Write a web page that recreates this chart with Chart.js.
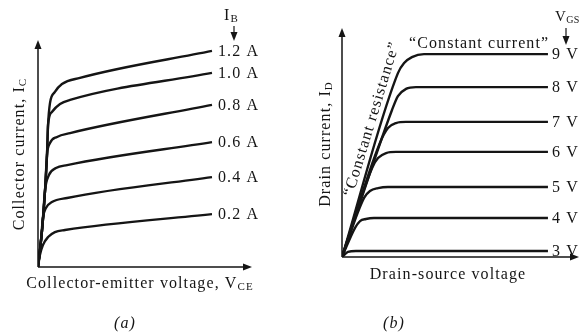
<!DOCTYPE html>
<html>
<head>
<meta charset="utf-8">
<script src="https://cdn.jsdelivr.net/npm/chart.js@4.4.0/dist/chart.umd.min.js"></script>
<style>
  html, body { margin: 0; padding: 0; background: #fff; }
  #wrap { position: relative; width: 582px; height: 335px; }
  canvas { position: absolute; top: 0; }
  #bjt { left: 0; }
  #fet { left: 291px; }
</style>
</head>
<body>
<div id="wrap">
  <canvas id="bjt" width="291" height="335"></canvas>
  <canvas id="fet" width="291" height="335"></canvas>
</div>
<script>
// (a) bipolar transistor: collector current vs collector-emitter voltage
const ibLabels = ['1.2 A', '1.0 A', '0.8 A', '0.6 A', '0.4 A', '0.2 A'];
const vce12 = [0, 0.19, 0.33, 0.42, 0.47, 0.56, 0.79, 1.12, 1.96, 8.13];
const ic12  = [0, 1.63, 3.39, 4.93, 6.26, 7.22, 7.71, 8.06, 8.33, 9.52];
const vce10 = [0, 0.19, 0.33, 0.42, 0.47, 0.65, 1.03, 1.50, 8.13];
const ic10  = [0, 1.63, 3.39, 4.93, 6.26, 6.83, 7.18, 7.36, 8.55];
const vce08 = [0, 0.19, 0.33, 0.42, 0.56, 0.89, 1.50, 8.13];
const ic08  = [0, 1.63, 3.39, 4.93, 5.46, 5.73, 5.90, 7.14];
const vce06 = [0, 0.19, 0.33, 0.51, 0.84, 1.36, 8.13];
const ic06  = [0, 1.63, 3.39, 4.05, 4.36, 4.49, 5.50];
const vce04 = [0, 0.14, 0.23, 0.37, 0.65, 1.36, 8.13];
const ic04  = [0, 1.19, 2.16, 2.60, 2.86, 3.04, 3.96];
const vce02 = [0, 0.09, 0.23, 0.47, 0.79, 1.26, 8.13];
const ic02  = [0, 0.53, 0.97, 1.32, 1.54, 1.63, 2.33];

// (b) field-effect transistor: drain current vs drain-source voltage
const vgsLabels = ['9 V', '8 V', '7 V', '6 V', '5 V', '4 V', '3 V'];
const vds9 = [0, 2.36, 2.62, 2.95, 3.46, 8.69];
const id9  = [0, 8.03, 8.47, 8.73, 8.86, 8.86];
const vds8 = [0, 2.11, 2.36, 2.70, 3.12, 8.69];
const id8  = [0, 6.42, 7.03, 7.34, 7.42, 7.42];
const vds7 = [0, 1.60, 1.94, 2.28, 2.70, 8.69];
const id7  = [0, 4.98, 5.63, 5.85, 5.90, 5.90];
const vds6 = [0, 1.27, 1.52, 1.86, 2.28, 8.69];
const id6  = [0, 3.89, 4.32, 4.54, 4.59, 4.59];
const vds5 = [0, 0.93, 1.18, 1.52, 1.94, 8.69];
const id5  = [0, 2.58, 2.88, 3.01, 3.06, 3.06];
const vds4 = [0, 0.55, 0.76, 1.01, 1.35, 8.69];
const id4  = [0, 1.27, 1.57, 1.66, 1.70, 1.70];
const vds3 = [0, 0.25, 0.59, 8.69];
const id3  = [0, 0.22, 0.26, 0.26];

const INK = '#151515';
const SERIF = '"Liberation Serif", "DejaVu Serif", serif';
const SIZE = 16;
const SPACING = '1.1px';

function pts(xs, ys) {
  return xs.map((x, i) => ({ x: x, y: ys[i] }));
}

function curve(label, xs, ys) {
  return {
    label: label,
    data: pts(xs, ys),
    showLine: true,
    borderColor: INK,
    borderWidth: 2.4,
    pointRadius: 0,
    cubicInterpolationMode: 'monotone',
    fill: false
  };
}

function arrowHead(ctx, x, y, dir) {
  // dir: 'up', 'right', 'down'
  const len = 9, hw = 3.5;
  ctx.beginPath();
  if (dir === 'up') {
    ctx.moveTo(x, y); ctx.lineTo(x - hw, y + len); ctx.lineTo(x + hw, y + len);
  } else if (dir === 'right') {
    ctx.moveTo(x, y); ctx.lineTo(x - len, y - hw); ctx.lineTo(x - len, y + hw);
  } else {
    ctx.moveTo(x, y); ctx.lineTo(x - hw, y - len); ctx.lineTo(x + hw, y - len);
  }
  ctx.closePath();
  ctx.fill();
}

// text with a lowered subscript, e.g. I with C below
function subText(ctx, main, sub, x, y, align, size) {
  ctx.font = size + 'px ' + SERIF;
  const w1 = ctx.measureText(main).width;
  ctx.font = Math.round(size * 0.68) + 'px ' + SERIF;
  const w2 = ctx.measureText(sub).width;
  let start = x;
  if (align === 'center') start = x - (w1 + w2) / 2;
  ctx.textAlign = 'left';
  ctx.textBaseline = 'middle';
  ctx.font = size + 'px ' + SERIF;
  ctx.fillText(main, start, y);
  ctx.font = Math.round(size * 0.68) + 'px ' + SERIF;
  ctx.fillText(sub, start + w1, y + 3);
}

const axesPlugin = {
  id: 'axesArrows',
  beforeDatasetsDraw(chart) {
    const { ctx, chartArea: a } = chart;
    ctx.save();
    ctx.strokeStyle = INK;
    ctx.fillStyle = INK;
    ctx.lineWidth = 1.5;
    ctx.beginPath();
    ctx.moveTo(a.left, a.bottom);
    ctx.lineTo(a.left, a.top + 4);
    ctx.moveTo(a.left, a.bottom);
    ctx.lineTo(a.right - 4, a.bottom);
    ctx.stroke();
    arrowHead(ctx, a.left, a.top, 'up');
    arrowHead(ctx, a.right, a.bottom, 'right');
    ctx.restore();
  }
};

function endLabels(chart, labels, dx, size) {
  const ctx = chart.ctx;
  const xs = chart.scales.x, ys = chart.scales.y;
  ctx.font = size + 'px ' + SERIF;
  ctx.textAlign = 'left';
  ctx.textBaseline = 'middle';
  chart.data.datasets.forEach((ds, i) => {
    const p = ds.data[ds.data.length - 1];
    ctx.fillText(labels[i], xs.getPixelForValue(p.x) + dx, ys.getPixelForValue(p.y) + 1);
  });
}

const bjtText = {
  id: 'bjtText',
  afterDraw(chart) {
    const ctx = chart.ctx;
    ctx.save();
    ctx.fillStyle = INK;
    ctx.strokeStyle = INK;
    ctx.letterSpacing = SPACING;
    endLabels(chart, ibLabels, 6, SIZE);

    subText(ctx, 'I', 'B', 224, 16, 'left', SIZE);
    ctx.lineWidth = 1.2;
    ctx.beginPath();
    ctx.moveTo(234, 26); ctx.lineTo(234, 36); ctx.stroke();
    arrowHead(ctx, 234, 41, 'down');

    subText(ctx, 'Collector-emitter voltage, V', 'CE', 140, 284, 'center', SIZE);

    ctx.save();
    ctx.translate(20, 154);
    ctx.rotate(-Math.PI / 2);
    subText(ctx, 'Collector current, I', 'C', 0, 0, 'center', SIZE);
    ctx.restore();

    ctx.font = 'italic ' + SIZE + 'px ' + SERIF;
    ctx.textAlign = 'center';
    ctx.textBaseline = 'middle';
    ctx.fillText('(a)', 125, 324);
    ctx.restore();
  }
};

const fetText = {
  id: 'fetText',
  afterDraw(chart) {
    const ctx = chart.ctx;
    const xs = chart.scales.x, ys = chart.scales.y;
    ctx.save();
    ctx.fillStyle = INK;
    ctx.strokeStyle = INK;
    ctx.letterSpacing = SPACING;
    endLabels(chart, vgsLabels, 4, SIZE);

    ctx.letterSpacing = '0.4px';
    subText(ctx, 'V', 'GS', 264, 17, 'left', 15);
    ctx.letterSpacing = SPACING;
    ctx.lineWidth = 1.2;
    ctx.beginPath();
    ctx.moveTo(275, 28); ctx.lineTo(275, 39); ctx.stroke();
    arrowHead(ctx, 275, 45, 'down');

    ctx.font = SIZE + 'px ' + SERIF;
    ctx.textAlign = 'left';
    ctx.textBaseline = 'middle';
    ctx.fillText('\u201CConstant current\u201D', 118, 44);

    // label laid along the steep ohmic region of the top curve
    const x0 = xs.getPixelForValue(vds9[0]), y0 = ys.getPixelForValue(id9[0]);
    const x1 = xs.getPixelForValue(vds9[1]), y1 = ys.getPixelForValue(id9[1]);
    const ang = Math.atan2(y1 - y0, x1 - x0);
    ctx.save();
    ctx.translate(81, 119);
    ctx.rotate(ang);
    ctx.textAlign = 'center';
    ctx.fillText('\u201CConstant resistance\u201D', 0, 0);
    ctx.restore();

    ctx.textAlign = 'center';
    ctx.fillText('Drain-source voltage', 157, 275);

    ctx.save();
    ctx.translate(35, 144);
    ctx.rotate(-Math.PI / 2);
    subText(ctx, 'Drain current, I', 'D', 0, 0, 'center', SIZE);
    ctx.restore();

    ctx.font = 'italic ' + SIZE + 'px ' + SERIF;
    ctx.textAlign = 'center';
    ctx.fillText('(b)', 103, 324);
    ctx.restore();
  }
};

function baseOptions(pad) {
  return {
    responsive: false,
    animation: false,
    events: [],
    layout: { padding: pad },
    plugins: { legend: { display: false }, tooltip: { enabled: false } },
    scales: {
      x: { type: 'linear', min: 0, max: 10, display: false },
      y: { type: 'linear', min: 0, max: 10, display: false }
    }
  };
}

new Chart(document.getElementById('bjt'), {
  type: 'scatter',
  data: {
    datasets: [
      curve(ibLabels[0], vce12, ic12),
      curve(ibLabels[1], vce10, ic10),
      curve(ibLabels[2], vce08, ic08),
      curve(ibLabels[3], vce06, ic06),
      curve(ibLabels[4], vce04, ic04),
      curve(ibLabels[5], vce02, ic02)
    ]
  },
  options: baseOptions({ left: 38, right: 39, top: 40, bottom: 68 }),
  plugins: [axesPlugin, bjtText]
});

new Chart(document.getElementById('fet'), {
  type: 'scatter',
  data: {
    datasets: [
      curve(vgsLabels[0], vds9, id9),
      curve(vgsLabels[1], vds8, id8),
      curve(vgsLabels[2], vds7, id7),
      curve(vgsLabels[3], vds6, id6),
      curve(vgsLabels[4], vds5, id5),
      curve(vgsLabels[5], vds4, id4),
      curve(vgsLabels[6], vds3, id3)
    ]
  },
  options: baseOptions({ left: 51, right: 3, top: 28, bottom: 78 }),
  plugins: [axesPlugin, fetText]
});
</script>
</body>
</html>
